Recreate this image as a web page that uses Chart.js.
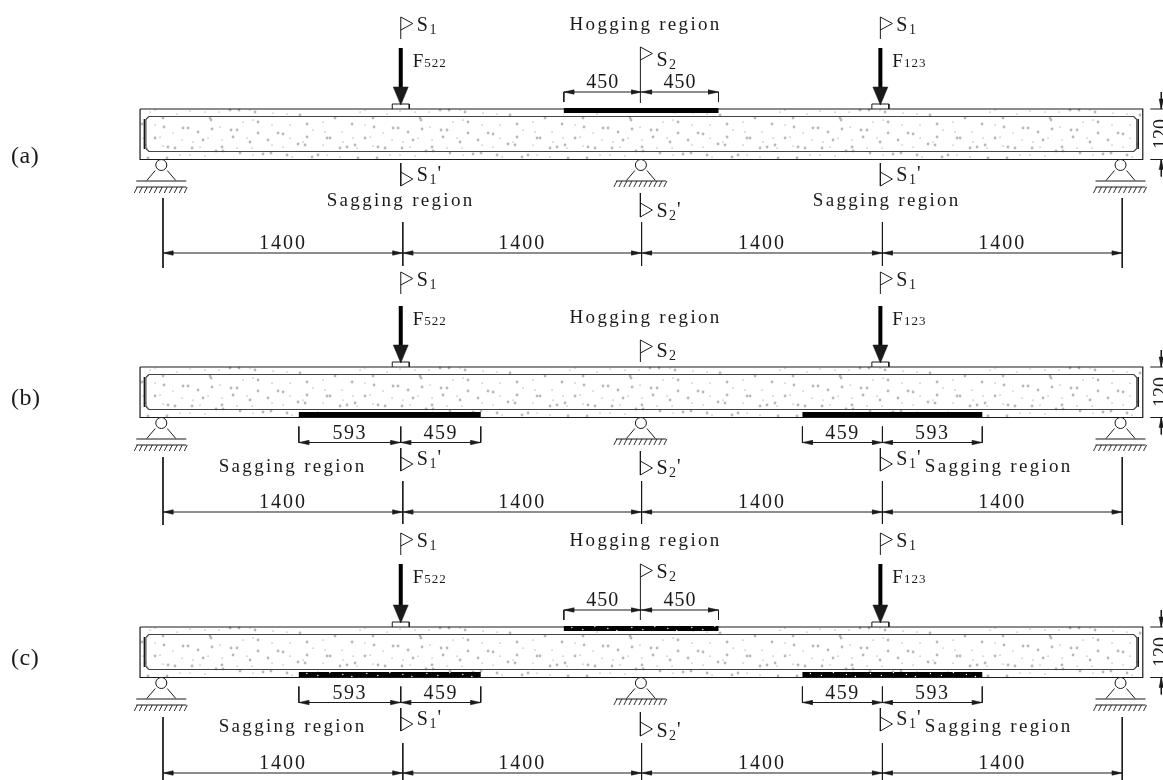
<!DOCTYPE html>
<html>
<head>
<meta charset="utf-8">
<style>
  html, body { margin: 0; padding: 0; background: #fff; }
  canvas { display: block; }
</style>
<script src="https://cdn.jsdelivr.net/npm/chart.js@4"></script>
</head>
<body>
<canvas id="beamChart" width="1163" height="780"></canvas>
<script>
// --- Data, in mm along the beam ---
const panelNames = ['(a)', '(b)', '(c)'];
const sectionX = [0, 1400, 2794, 4200, 5600];
const spanLabels = ['1400', '1400', '1400', '1400'];
const loadX = [1388, 4188];
const loadLabels = ['522', '123'];
const supportX = [-10, 2790, 5590];
const beamEnds = [-134, 5720];
const rebarEnds = [-100, 5685];
const hogStrip = [2340, 2794, 3243];
const hogLabels = ['450', '450'];
const sagStrips = [[793, 1388, 1855], [3733, 4200, 4783]];
const sagLabels = [['593', '459'], ['459', '593']];
const depthLabel = '120';

// concrete speckle, [px along a 210 px tile, px below the beam top]
const speckCoarse = [[24, 18], [15, 29], [5, 36], [28, 38], [35, 39], [43, 19], [48, 19], [58, 23], [63, 31], [72, 20], [71, 11], [52, 39],
  [82, 38], [93, 28], [91, 21], [97, 21], [110, 33], [118, 24], [128, 31], [138, 24], [143, 25], [158, 35], [165, 36], [167, 15],
  [167, 28], [187, 29], [190, 29], [200, 39], [207, 38], [115, 3], [90, 1], [99, 1], [76, 42], [83, 42], [100, 44], [123, 45],
  [131, 44], [147, 46], [172, 48], [178, 46], [8, 49], [27, 49], [160, 6], [195, 9], [118, 13], [23, 9], [70, 9], [2, 15]];
const speckFine = [[10, 3], [15, 1], [37, 5], [50, 2], [65, 3], [79, 3], [110, 1], [133, 4], [147, 5], [3, 29], [15, 16], [20, 28], [23, 37],
  [33, 24], [42, 31], [53, 33], [68, 29], [80, 18], [82, 31], [103, 13], [107, 29], [113, 11], [132, 16], [132, 36], [150, 16], [150, 29],
  [163, 33], [173, 21], [183, 13], [185, 23], [183, 36], [202, 23], [203, 33], [7, 39], [60, 38], [97, 39], [112, 39], [143, 38],
  [40, 46], [50, 46], [65, 47], [113, 46], [152, 48], [187, 46], [200, 48]];
// white flecks on the bonded strips of panel (c), [px along a 60 px tile, px off the strip centre]
const stripFlecks = [[8, -1], [19, 1], [31, -2], [44, 0], [53, 2]];

// --- Layout levels in page pixels, one entry per panel ---
const beamTop = [109, 367, 627];
const flagTop = [17, 272, 533];
const forceTop = [48, 306, 564];
const hogBase = [30, 323, 546];
const s2Top = [47, 340, 564];
const s2Bottom = [103, 362, 620];
const s2Base = [66, 357, 578];
const lowS1Top = [163, 448, 708];
const lowS1Base = [181, 465, 725];
const lowS2Top = [193, 451, 712];
const lowS2Base = [217, 474, 737];
const sagBase = [206, 472, 732];
const sagOffset = [[-74, -67.5], [-182, 44.5], [-182, 44.5]];
const dimY = [253, 512, 773];
const dimTop = [222, 481, 743];
const dimBottom = [266, 524, 780];
const extTop = [198, 457, 717];
const extBottom = [268, 525, 780];
const panelBase = [163, 405, 665];
const SERIF = '"Liberation Serif", "Times New Roman", serif';
const INK = '#1a1a1a';
const PX = 5.838; // mm per page pixel

const datasets = [];
const texts = [];

function addLine(points, width = 1, color = INK) {
  datasets.push({
    data: points.map(p => ({ x: p[0], y: p[1] })),
    showLine: true, pointRadius: 0, borderWidth: width, borderColor: color, tension: 0,
    order: -datasets.length
  });
}

function addFilled(points) {
  datasets.push({
    data: points.map(p => ({ x: p[0], y: p[1] })),
    showLine: true, pointRadius: 0, borderWidth: 0.5, borderColor: INK, backgroundColor: INK,
    fill: 'shape', tension: 0, order: -datasets.length
  });
}

function addDots(points, radius, color) {
  datasets.push({
    data: points.map(p => ({ x: p[0], y: p[1] })),
    showLine: false, pointRadius: radius, pointBackgroundColor: color, pointBorderWidth: 0,
    order: -datasets.length
  });
}

function addText(text, at, dx, y, size, opts = {}) {
  texts.push({ text, at, dx, y, size, spacing: 0, align: 'left', ...opts });
}

// small dimension arrow, dir -1 points left and +1 points right
function addDimArrow(x, y, dir) {
  addFilled([[x, y], [x - dir * 10 * PX, y - 2.2], [x - dir * 10 * PX, y + 2.2], [x, y]]);
}

function addVerticalArrow(x, y, dir) {
  addFilled([[x, y], [x - 2.2 * PX, y - dir * 10], [x + 2.2 * PX, y - dir * 10], [x, y]]);
}

function addFlagUp(x, top, bottom) {
  addLine([[x, bottom], [x, top], [x + 12 * PX, top + 6.5], [x, top + 13]]);
}

function addFlagDown(x, top, bottom) {
  addLine([[x, top], [x, bottom], [x + 12 * PX, bottom - 7], [x, bottom - 14]]);
}

function addSection(x, y, mark, sub, prime) {
  addText(mark, x, 16, y, 20, { sub, prime, subSize: 14, subGap: 1.5, subDrop: 3 });
}

function addBeam(top) {
  const bottom = top + 50.5;

  // speckle tile repeated along the beam, under the outlines
  const coarse = [];
  const fine = [];
  for (let tile = 0; tile < 5; tile++) {
    const origin = beamEnds[0] + tile * 210 * PX;
    speckCoarse.forEach(p => coarse.push([origin + p[0] * PX, top + p[1]]));
    speckFine.forEach(p => fine.push([origin + p[0] * PX, top + p[1]]));
  }
  addDots(coarse.filter(p => p[0] < beamEnds[1]), 1.4, '#b8b8b8');
  addDots(fine.filter(p => p[0] < beamEnds[1]), 0.6, '#7a7a7a');

  const [l, r] = beamEnds;
  addLine([[l, top], [r, top], [r, bottom], [l, bottom], [l, top]], 1.2);
  const [a, b] = rebarEnds;
  const c = 3 * PX;
  addLine([[a + c, top + 7.5], [b - c, top + 7.5], [b, top + 10.5], [b, top + 39.5], [b - c, top + 42.5],
    [a + c, top + 42.5], [a, top + 39.5], [a, top + 10.5], [a + c, top + 7.5]], 1.2, '#444');
  addLine([[a - 1.5 * PX, top + 10], [a - 1.5 * PX, top + 40]], 1);
  addLine([[b + 1.5 * PX, top + 10], [b + 1.5 * PX, top + 40]], 1);
}

function addSupport(x, bottom, endSupport) {
  const half = 25 * PX;
  addLine([[x - 6 * PX, bottom + 11], [x - 14.5 * PX, bottom + 21]]);
  addLine([[x + 6 * PX, bottom + 11], [x + 14.5 * PX, bottom + 21]]);
  datasets.push({
    data: [{ x, y: bottom + 5.5 }], showLine: false, pointRadius: 5.5,
    pointBackgroundColor: '#fff', pointBorderColor: INK, pointBorderWidth: 1, order: -datasets.length
  });
  addLine([[x - half, bottom + 21.5], [x + half, bottom + 21.5]], endSupport ? 1.2 : 1);
  const hatchTop = endSupport ? bottom + 27.5 : bottom + 21.5;
  if (endSupport) addLine([[x - half, hatchTop], [x + half, hatchTop]]);
  for (let h = -24; h <= 26; h += 5) {
    addLine([[x + h * PX, hatchTop], [x + (h - 3) * PX, hatchTop + 6]], 0.9);
  }
}

function addLoad(x, index, panel) {
  const top = beamTop[panel];
  addLine([[x, forceTop[panel]], [x, top - 20]], 4, '#000');
  addFilled([[x - 7.5 * PX, top - 22], [x + 7.5 * PX, top - 22], [x, top - 4], [x - 7.5 * PX, top - 22]]);
  addLine([[x - 8.5 * PX, top], [x - 8.5 * PX, top - 5], [x + 8.5 * PX, top - 5], [x + 8.5 * PX, top]], 1);
  addFlagUp(x, flagTop[panel], flagTop[panel] + 22);
  addSection(x, flagTop[panel] + 14, 'S', '1', '');
  addText('F', x, 12, forceTop[panel] + 19, 19, { sub: loadLabels[index], subSize: 13, subDrop: 0, subGap: 1 });
}

function addFlecks(start, end, y) {
  const flecks = [];
  for (let tile = 0; tile < 4; tile++) {
    stripFlecks.forEach(p => flecks.push([start + (tile * 60 + p[0]) * PX, y + p[1]]));
  }
  addDots(flecks.filter(p => p[0] < end), 0.7, '#fff');
}

function addHogging(panel) {
  addText('Hogging region', hogStrip[1], -72, hogBase[panel], 19, { spacing: 2.3 });
  const x = hogStrip[1] - 1.2 * PX;
  addFlagUp(x, s2Top[panel], s2Bottom[panel]);
  addSection(x, s2Base[panel], 'S', '2', '');
  if (panel === 1) return;
  const top = beamTop[panel];
  addLine([[hogStrip[0], top + 1.5], [hogStrip[2], top + 1.5]], 5, '#000');
  if (panel === 2) addFlecks(hogStrip[0], hogStrip[2], top + 1.5);
  const y = top - 17;
  addLine([[hogStrip[0], y], [hogStrip[2], y]]);
  addLine([[hogStrip[0], y], [hogStrip[0], y + 10]]);
  addLine([[hogStrip[2], y], [hogStrip[2], y + 10]]);
  addDimArrow(hogStrip[0], y, -1);
  addDimArrow(hogStrip[1], y, 1);
  addDimArrow(hogStrip[1], y, -1);
  addDimArrow(hogStrip[2], y, 1);
  addText(hogLabels[0], (hogStrip[0] + hogStrip[1]) / 2, 0, y - 4, 20, { align: 'center', spacing: 1 });
  addText(hogLabels[1], (hogStrip[1] + hogStrip[2]) / 2, 0, y - 4, 20, { align: 'center', spacing: 1 });
}

function addSagging(panel) {
  const bottom = beamTop[panel] + 50.5;
  sagStrips.forEach((strip, i) => {
    addLine([[strip[0], bottom - 3], [strip[2], bottom - 3]], 5, '#000');
    if (panel === 2) addFlecks(strip[0], strip[2], bottom - 3);
    const y = bottom + 25;
    addLine([[strip[0], y], [strip[2], y]]);
    strip.forEach(x => addLine([[x, y - 16], [x, y]]));
    addDimArrow(strip[0], y, -1);
    addDimArrow(strip[1], y, 1);
    addDimArrow(strip[1], y, -1);
    addDimArrow(strip[2], y, 1);
    addText(sagLabels[i][0], (strip[0] + strip[1]) / 2, 0, y - 4, 20, { align: 'center', spacing: 1.5 });
    addText(sagLabels[i][1], (strip[1] + strip[2]) / 2, 0, y - 4, 20, { align: 'center', spacing: 1.5 });
  });
}

function addDepth(top) {
  const bottom = top + 50.5;
  const x = beamEnds[1] + 18.5 * PX;
  addLine([[beamEnds[1] + 7.5 * PX, top], [beamEnds[1] + 20 * PX, top]]);
  addLine([[beamEnds[1] + 7.5 * PX, bottom], [beamEnds[1] + 20 * PX, bottom]]);
  addLine([[x, top - 17], [x, top]]);
  addLine([[x, bottom], [x, bottom + 17]]);
  addVerticalArrow(x, top, 1);
  addVerticalArrow(x, bottom, -1);
  addText(depthLabel, beamEnds[1], 24, top + 25, 20, { align: 'center', rotate: true });
}

panelNames.forEach((name, panel) => {
  const top = beamTop[panel];
  const bottom = top + 50.5;
  addBeam(top);
  addDepth(top);
  addText(name, 0, -152, panelBase[panel], 24, { spacing: 0.5 });

  supportX.forEach((x, i) => addSupport(x, bottom, i !== 1));
  loadX.forEach((x, i) => addLoad(x, i, panel));
  addHogging(panel);
  if (panel > 0) addSagging(panel);

  // sections below the beam
  loadX.forEach(x => {
    addFlagDown(x, lowS1Top[panel], lowS1Top[panel] + 23);
    addSection(x, lowS1Base[panel], 'S', '1', "'");
  });
  addFlagDown(hogStrip[1] - 1.2 * PX, lowS2Top[panel], lowS2Top[panel] + 24);
  addSection(hogStrip[1] - 1.2 * PX, lowS2Base[panel], 'S', '2', "'");

  // region captions
  loadX.forEach((x, i) => addText('Sagging region', x, sagOffset[panel][i], sagBase[panel], 19, { spacing: 2.3 }));

  // overall spans
  const y = dimY[panel];
  addLine([[sectionX[0], y], [sectionX[4], y]]);
  addLine([[sectionX[0], extTop[panel]], [sectionX[0], extBottom[panel]]]);
  addLine([[sectionX[4], extTop[panel]], [sectionX[4], extBottom[panel]]]);
  sectionX.slice(1, 4).forEach(x => addLine([[x, dimTop[panel]], [x, dimBottom[panel]]]));
  sectionX.forEach((x, i) => {
    if (i > 0) addDimArrow(x, y, 1);
    if (i < 4) addDimArrow(x, y, -1);
  });
  spanLabels.forEach((label, i) => {
    addText(label, (sectionX[i] + sectionX[i + 1]) / 2, 0, y - 4, 20, { align: 'center', spacing: 2 });
  });
});

// --- Text is drawn on the chart canvas, placed through the scales ---
const textPlugin = {
  id: 'drawingText',
  afterDatasetsDraw(chart) {
    const ctx = chart.ctx;
    const scaleX = chart.scales.x;
    const scaleY = chart.scales.y;
    ctx.save();
    ctx.fillStyle = INK;
    ctx.textBaseline = 'alphabetic';
    texts.forEach(t => {
      const px = scaleX.getPixelForValue(t.at) + t.dx;
      const py = scaleY.getPixelForValue(t.y);
      ctx.save();
      ctx.translate(px, py);
      if (t.rotate) ctx.rotate(-Math.PI / 2);
      ctx.font = `${t.size}px ${SERIF}`;
      ctx.letterSpacing = `${t.spacing}px`;
      ctx.textAlign = t.align;
      ctx.fillText(t.text, 0, 0);
      if (t.sub) {
        let cursor = ctx.measureText(t.text).width + (t.subGap || 0);
        ctx.font = `${t.subSize}px ${SERIF}`;
        ctx.letterSpacing = '1px';
        ctx.fillText(t.sub, cursor, t.subDrop);
        cursor += ctx.measureText(t.sub).width;
        if (t.prime) {
          ctx.font = `${t.size}px ${SERIF}`;
          ctx.fillText(t.prime, cursor, -1);
        }
      }
      ctx.restore();
    });
    ctx.restore();
  }
};

new Chart(document.getElementById('beamChart'), {
  type: 'scatter',
  data: { datasets },
  options: {
    responsive: false,
    animation: false,
    events: [],
    devicePixelRatio: 1,
    layout: { padding: 0, autoPadding: false },
    plugins: { legend: { display: false }, tooltip: { enabled: false } },
    scales: {
      x: { type: 'linear', display: false, min: -163 * PX, max: 1000 * PX },
      y: { type: 'linear', display: false, min: 0, max: 780, reverse: true }
    }
  },
  plugins: [textPlugin]
});
</script>
</body>
</html>
